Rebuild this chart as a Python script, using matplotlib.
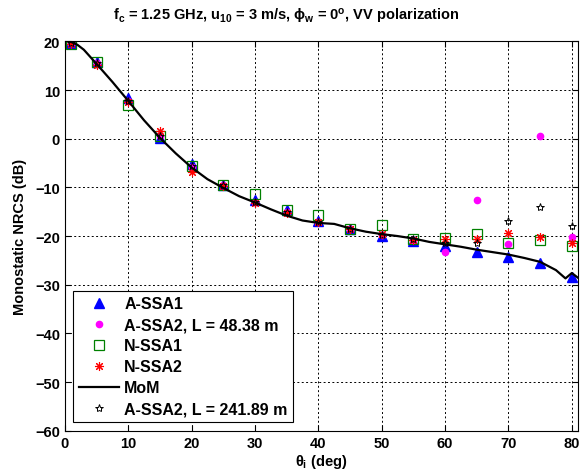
import numpy as np
import matplotlib
matplotlib.use('Agg')
import matplotlib.pyplot as plt

plt.rcParams['font.family'] = 'Liberation Sans'
plt.rcParams['font.weight'] = 'bold'
plt.rcParams['mathtext.fontset'] = 'custom'
plt.rcParams['mathtext.rm'] = 'Liberation Sans:bold'
plt.rcParams['mathtext.it'] = 'Liberation Sans:bold'
plt.rcParams['mathtext.bf'] = 'Liberation Sans:bold'

# ── data ───────────────────────────────────────────────
theta = [1, 5, 10, 15, 20, 25, 30, 35, 40, 45, 50, 55, 60, 65, 70, 75, 80]

a_ssa1 = [19.6, 15.7, 8.3, 0.2, -5.2, -9.5, -12.6, -14.7, -17.0, -18.6,
          -20.0, -21.1, -22.1, -23.3, -24.2, -25.6, -28.5]
a_ssa2_short = [19.6, 15.6, 7.8, 0.6, -5.9, -9.6, -12.9, -15.0, -17.1, -18.6,
                -19.8, -20.8, -23.2, -12.5, -21.7, 0.6, -20.1]
n_ssa1 = [19.4, 15.8, 6.9, 0.5, -5.5, -9.5, -11.3, -14.7, -15.6, -18.5,
          -17.8, -20.5, -20.3, -19.6, -21.5, -20.9, -22.0]
n_ssa2 = [19.5, 15.2, 7.6, 1.6, -6.9, -9.7, -13.2, -15.2, -17.2, -18.6,
          -19.6, -20.8, -20.7, -20.5, -19.4, -20.1, -21.4]
a_ssa2_long = [19.6, 15.6, 7.7, 0.5, -5.7, -9.6, -12.9, -15.0, -17.1, -18.6,
               -19.8, -20.5, -21.5, -21.4, -17.0, -14.1, -17.9]

mom_theta = [1, 2, 3, 5, 7.5, 10, 12.5, 15, 17.5, 20, 22.5, 25, 27.5, 30,
             32.5, 35, 37.5, 40, 42.5, 45, 47.5, 50, 52.5, 55, 57.5, 60,
             62.5, 65, 67.5, 70, 72.5, 75, 77.5, 79, 80, 81]
mom = [19.9, 19.3, 18.3, 15.4, 11.7, 7.8, 3.8, 0.2, -3.0, -5.9, -8.3, -10.1,
       -11.8, -13.1, -14.5, -15.8, -16.8, -17.3, -17.5, -18.4, -19.1, -19.6,
       -20.0, -20.5, -21.2, -21.7, -22.2, -22.8, -23.3, -23.8, -24.5, -25.3,
       -27.0, -28.7, -27.6, -28.6]

fig = plt.figure(figsize=(5.84, 4.77), dpi=100)
ax = fig.add_axes([0.111, 0.095, 0.879, 0.816])

ax.plot(theta, a_ssa1, '^', color='blue', ms=6.5, ls='none', label='A-SSA1')
ax.plot(theta, a_ssa2_short, 'o', color='magenta', ms=4.5, ls='none',
        label='A-SSA2, L = 48.38 m')
ax.plot(theta, n_ssa1, 's', color='green', mfc='none', ms=7, mew=0.9,
        ls='none', label='N-SSA1')
ax.plot(theta, n_ssa2, marker=(8, 2, 0), color='red', ms=6.5, mew=0.8,
        ls='none', label='N-SSA2')
ax.plot(mom_theta, mom, '-', color='black', lw=1.6, label='MoM')
ax.plot(theta, a_ssa2_long, '*', color='black', mfc='none', ms=6, mew=0.7,
        ls='none', label='A-SSA2, L = 241.89 m')

ax.set_xlim(0, 81)
ax.set_ylim(-60, 20)
ax.set_xticks(np.arange(0, 81, 10))
ax.set_yticks(np.arange(-60, 21, 10))
ax.tick_params(direction='in', top=True, right=True, length=4,
               labelsize=10.5, width=0.8)
ax.grid(True, color='black', lw=0.7, dashes=(2, 2.5))
for sp in ax.spines.values():
    sp.set_linewidth(0.8)

ax.set_xlabel(r'$\theta_{i}$ (deg)', fontsize=10.5, fontweight='bold', labelpad=2)
ax.set_ylabel('Monostatic NRCS (dB)', fontsize=10.5, fontweight='bold', labelpad=6)

fig.text(0.49, 0.965,
         r'f$_{c}$ = 1.25 GHz, u$_{10}$ = 3 m/s, $\phi_{w}$ = 0$^{o}$, VV polarization',
         ha='center', va='center', fontsize=10.5, fontweight='bold')

leg = ax.legend(loc='lower left', bbox_to_anchor=(0.016, 0.022), fontsize=11.5,
                frameon=True, fancybox=False, edgecolor='black', framealpha=1,
                handlelength=2.5, handletextpad=0.35, borderpad=0.35,
                labelspacing=0.38, borderaxespad=0)
leg.get_frame().set_linewidth(0.8)

fig.savefig('out.png', dpi=100)
